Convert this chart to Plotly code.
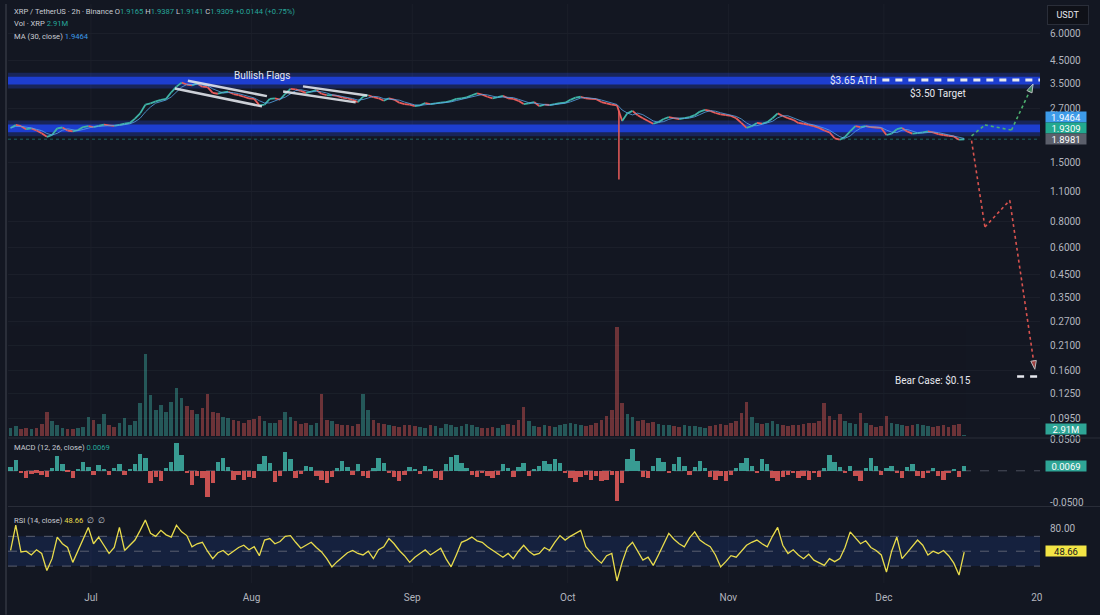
import numpy as np
import pandas as pd
import plotly.graph_objects as go

BG = "#131722"
GRID = "#1b1f2a"
TXT = "#b2b5be"
TEAL = "#3fb3a6"
RED = "#e85c5a"

# ---------------- data (daily samples) ----------------
first_day = "2025-06-15 12:00"
closes = [
    2.18, 2.25, 2.22, 2.15, 2.17, 2.12, 2.06, 1.98, 2.02, 2.17, 2.19, 2.12, 2.10, 2.13, 2.20, 2.22,
    2.20, 2.23, 2.26, 2.24, 2.23, 2.25, 2.28, 2.30, 2.41, 2.55,
    2.80, 2.84, 2.90, 2.95, 2.98, 3.20, 3.40, 3.55, 3.48, 3.45,
    3.52, 3.40, 3.38, 3.18, 3.15, 3.20, 3.22, 3.14, 3.10, 3.05, 3.00,
    2.98, 2.78, 2.80, 2.98, 3.00, 2.96, 3.15, 3.32, 3.30, 3.25,
    3.18, 3.22, 3.28, 3.15, 3.10, 3.10, 3.08, 3.02, 3.00, 2.95,
    2.88, 3.05, 3.10, 3.04, 3.00, 2.92, 3.00, 2.96, 2.86, 2.82, 2.80,
    2.76, 2.78, 2.85, 2.82, 2.84, 2.86, 2.88, 2.92, 2.98, 3.00,
    3.03, 3.10, 3.16, 3.12, 3.05, 3.00, 3.04, 3.08, 3.00, 2.98,
    2.92, 2.82, 2.84, 2.88, 2.76, 2.80, 2.79, 2.82, 2.85, 2.86,
    2.95, 3.02, 3.05, 3.00, 2.98, 2.97, 2.88, 2.84, 2.80, 2.78,
    2.35, 2.55, 2.62, 2.50, 2.42, 2.35, 2.28, 2.32, 2.40, 2.45,
    2.42, 2.40, 2.42, 2.45, 2.50, 2.60, 2.65, 2.62, 2.56, 2.52, 2.50,
    2.48, 2.42, 2.30, 2.18, 2.22, 2.30, 2.28, 2.32, 2.42, 2.55,
    2.48, 2.42, 2.38, 2.30, 2.28, 2.25, 2.22, 2.18, 2.12, 2.08,
    1.95, 1.92, 1.98, 2.10, 2.22, 2.20, 2.22, 2.20, 2.19, 2.18,
    2.02, 2.05, 2.15, 2.18, 2.10, 2.05, 2.06, 2.08, 2.10, 2.08,
    2.04, 2.02, 2.00, 1.99, 1.92, 1.93,
]
volumes_m = [
    30, 38, 28, 32, 26, 30, 45, 90, 55, 40, 32, 28, 25, 30, 35, 72,
    60, 45, 82, 40, 35, 48, 68, 40, 55, 120,
    300, 150, 95, 115, 90, 125, 175, 140, 110, 95,
    80, 105, 155, 90, 85, 70, 65, 60, 55, 50, 58,
    62, 75, 55, 50, 48, 60, 90, 70, 55, 45,
    50, 42, 48, 155, 60, 55, 45, 40, 42, 38,
    45, 155, 95, 60, 50, 45, 40, 38, 35, 42, 40,
    38, 35, 32, 40, 36, 30, 45, 42, 35, 38,
    45, 40, 35, 32, 30, 35, 32, 40, 45, 42,
    60, 108, 55, 38, 35, 40, 38, 35, 42, 45,
    50, 45, 40, 38, 42, 48, 60, 75, 95, 400,
    120, 80, 70, 55, 60, 48, 52, 45, 40, 42,
    38, 35, 40, 36, 38, 35, 32, 38, 42, 45, 40,
    48, 55, 85, 125, 70, 50, 45, 48, 55, 45,
    40, 38, 42, 40, 45, 50, 48, 55, 120, 75,
    60, 80, 55, 50, 45, 85, 48, 40, 35, 38,
    75, 50, 45, 40, 38, 42, 45, 40, 36, 35,
    38, 40, 35, 42, 45, 2.91,
]
macd_hist = [
    0.006, 0.017, -0.004, -0.011, -0.005, -0.003, -0.006, -0.009, 0.004, 0.024,
    0.010, -0.002, -0.011, 0.003, 0.014, 0.006, -0.007, 0.009, 0.002, -0.007,
    0.004, 0.011, -0.006, 0.002, 0.011, 0.027, 0.020, -0.019, -0.010, -0.016,
    0.005, 0.014, 0.043, 0.025, -0.004, -0.022, -0.008, -0.011, -0.041, -0.020,
    0.014, 0.020, 0.006, -0.015, -0.006, -0.014, -0.010, -0.012, 0.010, 0.024,
    0.012, -0.017, -0.008, 0.030, 0.018, -0.012, -0.005, 0.008, 0.006, -0.008,
    -0.014, -0.020, -0.010, 0.004, 0.015, 0.006, -0.006, 0.010, -0.008, -0.012,
    0.005, 0.020, 0.012, -0.004, -0.010, -0.016, -0.006, 0.006, 0.003, -0.005,
    0.008, 0.003, -0.012, -0.014, 0.010, 0.022, 0.025, 0.012, 0.004, -0.006,
    -0.010, -0.004, -0.008, -0.012, -0.006, 0.010, 0.004, -0.010, 0.006, 0.012,
    -0.008, 0.002, 0.008, 0.016, 0.010, 0.018, 0.012, -0.004, -0.012, -0.018,
    -0.010, -0.006, -0.014, -0.008, -0.016, -0.014, -0.006, -0.048, -0.020, 0.018,
    0.035, 0.015, -0.010, -0.012, 0.008, 0.020, 0.014, -0.004, 0.010, 0.022,
    0.008, -0.006, 0.006, 0.015, 0.004, -0.010, -0.014, -0.008, -0.016, -0.006,
    0.004, 0.012, 0.020, 0.008, -0.004, 0.018, 0.010, -0.012, -0.016, -0.010,
    -0.006, -0.004, -0.012, -0.008, -0.014, -0.004, -0.010, 0.004, 0.025, 0.014,
    0.006, -0.004, 0.008, -0.008, -0.016, 0.004, 0.020, 0.008, -0.006, 0.004,
    0.008, -0.004, -0.012, 0.006, 0.010, -0.008, -0.012, -0.004, 0.004, -0.008,
    -0.014, -0.004, 0.002, -0.010, 0.0069,
]
rsi_vals = [
    51, 85, 49, 50, 45, 52, 47, 24, 40, 69,
    60, 55, 35, 50, 65, 82, 60, 69, 58, 47,
    55, 82, 51, 58, 65, 78, 92, 74, 70, 78,
    72, 69, 85, 76, 71, 56, 60, 62, 50, 40,
    48, 51, 45, 50, 55, 58, 52, 56, 44, 65,
    67, 60, 63, 70, 71, 62, 54, 58, 62, 55,
    49, 40, 29, 36, 42, 48, 51, 47, 45, 50,
    40, 52, 56, 67, 60, 51, 44, 35, 42, 47,
    52, 45, 50, 54, 40, 29, 45, 62, 65, 69,
    64, 62, 56, 51, 46, 42, 47, 40, 50, 58,
    50, 45, 47, 55, 51, 62, 71, 65, 70, 74,
    78, 56, 48, 40, 34, 44, 47, 10, 35, 55,
    62, 50, 38, 42, 31, 45, 60, 74, 66, 60,
    56, 68, 76, 65, 60, 56, 45, 29, 36, 44,
    42, 50, 58, 62, 65, 60, 56, 70, 82, 58,
    47, 52, 45, 40, 46, 38, 35, 31, 40, 36,
    40, 55, 76, 68, 60, 64, 55, 51, 45, 22,
    50, 69, 40, 48, 56, 65, 58, 45, 50, 47,
    51, 44, 34, 18, 48.66,
]

crash_wick_time = ["2025-10-10 21:00", "2025-10-10 21:00"]
crash_wick_price = [2.62, 1.25]

bull_times = ["2025-12-17 22:00", "2025-12-20 12:00", "2025-12-25 15:00", "2025-12-29 19:00"]
bull_prices = [2.00, 2.25, 2.13, 3.50]
bear_times = ["2025-12-17 22:00", "2025-12-20 12:00", "2025-12-25 07:00", "2025-12-30 03:00"]
bear_prices = [1.90, 0.75, 1.00, 0.162]

flag1_upper_t = ["2025-07-19 17:00", "2025-08-03 23:00"]
flag1_upper_p = [3.62, 3.07]
flag1_lower_t = ["2025-07-17 05:00", "2025-08-03 00:00"]
flag1_lower_p = [3.33, 2.75]
flag2_upper_t = ["2025-08-10 22:00", "2025-08-23 07:00"]
flag2_upper_p = [3.41, 3.09]
flag2_lower_t = ["2025-08-07 02:00", "2025-08-21 02:00"]
flag2_lower_p = [3.23, 2.87]

ath_price = 3.65
ath_line_start = "2025-11-30 17:00"
target_price_label = 3.19
target_label_time = "2025-12-05 14:00"
bear_price = 0.15
bear_line_start = "2025-12-26 17:00"
bear_label_time = "2025-12-02 18:00"
bear_label_price = 0.145
flags_label_time = "2025-08-03 00:00"
flags_label_price = 3.83

zone_top = [3.48, 3.78]
zone_mid = [2.08, 2.26]

x_start = "2025-06-15 00:00"
x_end = "2025-12-31 03:00"

price_ticks = [6.0, 4.5, 3.5, 2.7, 1.5, 1.1, 0.8, 0.6, 0.45, 0.35, 0.27, 0.21, 0.16, 0.125, 0.095]
month_ticks = ["2025-07-01", "2025-08-01", "2025-09-01", "2025-10-01", "2025-11-01", "2025-12-01", "2025-12-30 12:00"]
month_labels = ["Jul", "Aug", "Sep", "Oct", "Nov", "Dec", "20"]

last_close = 1.9309
ma_last = "1.9464"
alt_level = "1.8981"
vol_last = "2.91M"
macd_last = "0.0069"
rsi_last = "48.66"

# ---------------- layout geometry (pixels) ----------------
W, H = 1100, 615
ML, MR, MT, MB = 8, 60, 0, 32
PW, PH = W - ML - MR, H - MT - MB


def py(p):
    return (PH - p) / PH


def px(p):
    return (p - ML) / PW


dates = pd.date_range(first_day, periods=len(closes), freq="D")
n = len(closes)

fig = go.Figure()

# zones (blue bands)
for lo, hi in [zone_top, zone_mid]:
    for k, col in [(1.045, "rgba(40,80,255,0.25)"), (1.0, "#1d3ed0")]:
        fig.add_trace(go.Scatter(
            x=[x_start, x_end, x_end, x_start, x_start],
            y=[lo / k, lo / k, hi * k, hi * k, lo / k],
            fill="toself", fillcolor=col, mode="lines", line=dict(width=0),
            hoverinfo="skip", xaxis="x", yaxis="y"))

# last price line
fig.add_trace(go.Scatter(x=[x_start, x_end], y=[last_close, last_close], mode="lines",
                         line=dict(color="rgba(38,166,154,0.55)", width=1, dash="dot"),
                         xaxis="x", yaxis="y"))

# volume
vcol = [TEAL if i == 0 or closes[i] >= closes[i - 1] else RED for i in range(n)]
fig.add_trace(go.Bar(x=dates, y=volumes_m, marker=dict(color=vcol, line=dict(width=0)),
                     opacity=0.42, width=0.7 * 86400000, xaxis="x", yaxis="y4"))

# price segments
ux, uy, dx, dy = [], [], [], []
for i in range(1, n):
    if closes[i] >= closes[i - 1]:
        ux += [dates[i - 1], dates[i], None]
        uy += [closes[i - 1], closes[i], None]
    else:
        dx += [dates[i - 1], dates[i], None]
        dy += [closes[i - 1], closes[i], None]
fig.add_trace(go.Scatter(x=dx, y=dy, mode="lines", line=dict(color=RED, width=1.8),
                         xaxis="x", yaxis="y"))
fig.add_trace(go.Scatter(x=ux, y=uy, mode="lines", line=dict(color=TEAL, width=1.8),
                         xaxis="x", yaxis="y"))
ma = pd.Series(closes).rolling(3, min_periods=1).mean()
fig.add_trace(go.Scatter(x=dates, y=ma, mode="lines", line=dict(color="#58a6e8", width=1),
                         opacity=0.8, xaxis="x", yaxis="y"))
fig.add_trace(go.Scatter(x=crash_wick_time, y=crash_wick_price, mode="lines",
                         line=dict(color=RED, width=1.5), xaxis="x", yaxis="y"))

# flags
for tt, pp in [(flag1_upper_t, flag1_upper_p), (flag1_lower_t, flag1_lower_p),
               (flag2_upper_t, flag2_upper_p), (flag2_lower_t, flag2_lower_p)]:
    fig.add_trace(go.Scatter(x=tt, y=pp, mode="lines", line=dict(color="rgba(225,228,235,0.9)", width=2.5),
                             xaxis="x", yaxis="y"))

# projections
for tt, pp, col in [(bull_times, bull_prices, "#4caf6e"), (bear_times, bear_prices, "#d9534f")]:
    fig.add_trace(go.Scatter(x=tt, y=pp, mode="lines+markers",
                             line=dict(color=col, width=1.6, dash="dot"),
                             marker=dict(symbol="arrow", size=[0] * (len(tt) - 1) + [9],
                                         angleref="previous", color=col),
                             xaxis="x", yaxis="y"))

# dashed white levels
fig.add_trace(go.Scatter(x=[ath_line_start, x_end], y=[ath_price, ath_price], mode="lines",
                         line=dict(color="#e6e8ee", width=3, dash="7px,6px"), xaxis="x", yaxis="y"))
fig.add_trace(go.Scatter(x=[bear_line_start, x_end], y=[bear_price, bear_price], mode="lines",
                         line=dict(color="#e6e8ee", width=2.5, dash="7px,6px"), xaxis="x", yaxis="y"))

# MACD
mcol = [TEAL if v >= 0 else RED for v in macd_hist]
fig.add_trace(go.Bar(x=dates, y=macd_hist, marker=dict(color=mcol, line=dict(width=0)),
                     opacity=0.85, width=0.85 * 86400000, xaxis="x2", yaxis="y2"))

# RSI
fig.add_trace(go.Scatter(x=dates, y=rsi_vals, mode="lines", line=dict(color="#e9dc4c", width=1.3),
                         xaxis="x3", yaxis="y3"))

# ---------------- shapes ----------------
shapes = []
for t in month_ticks[:6]:
    shapes.append(dict(type="line", xref="x", yref="paper", x0=t, x1=t, y0=0, y1=1,
                       line=dict(color=GRID, width=1), layer="below"))
for p in [437, 506]:
    shapes.append(dict(type="line", xref="paper", yref="paper", x0=px(ML), x1=px(W), y0=py(p), y1=py(p),
                       line=dict(color="#2a2e39", width=1)))
shapes.append(dict(type="line", xref="paper", yref="paper", x0=px(6), x1=px(6), y0=py(H), y1=py(0),
                   line=dict(color="#2a2e39", width=2)))
shapes.append(dict(type="rect", xref="paper", yref="y3", x0=0, x1=1, y0=30, y1=70,
                   fillcolor="rgba(41,98,255,0.13)", line=dict(width=0), layer="below"))
for lv in [70, 50, 30]:
    shapes.append(dict(type="line", xref="paper", yref="y3", x0=0, x1=1, y0=lv, y1=lv,
                       line=dict(color="#5a5f70", width=1, dash="dash"), layer="below"))
shapes.append(dict(type="line", xref="paper", yref="y2", x0=0, x1=1, y0=0, y1=0,
                   line=dict(color="#4a4f5c", width=1, dash="dash"), layer="below"))

# ---------------- annotations ----------------
T = lambda s, c: f"<span style='color:{c}'>{s}</span>"
g = "#26a69a"
LEG = dict(size=7.6, color="#c9ccd4")
ann = []
ann.append(dict(xref="paper", yref="paper", x=px(12), y=py(8), xanchor="left", yanchor="middle",
                text="XRP / TetherUS · 2h · Binance O" + T("1.9165", g) + " H" + T("1.9387", g) +
                     " L" + T("1.9141", g) + " C" + T("1.9309", g) + " " + T("+0.0144 (+0.75%)", g),
                font=LEG, showarrow=False))
ann.append(dict(xref="paper", yref="paper", x=px(12), y=py(20), xanchor="left", yanchor="middle",
                text="Vol · XRP " + T(vol_last, g), font=LEG, showarrow=False))
ann.append(dict(xref="paper", yref="paper", x=px(12), y=py(33), xanchor="left", yanchor="middle",
                text="MA (30, close) " + T(ma_last, "#3d9be9"), font=LEG, showarrow=False))
ann.append(dict(xref="paper", yref="paper", x=px(12), y=py(447), xanchor="left", yanchor="middle",
                text="MACD (12, 26, close) " + T(macd_last, g), font=LEG, showarrow=False))
ann.append(dict(xref="paper", yref="paper", x=px(12), y=py(520), xanchor="left", yanchor="middle",
                text="RSI (14, close) " + T(rsi_last, "#e9dc4c") + "  ∅  ∅", font=LEG, showarrow=False))

ann.append(dict(xref="x", yref="y", x=flags_label_time, y=np.log10(flags_label_price), text="Bullish Flags",
                font=dict(size=10, color="#e6e8ee"), showarrow=False, xanchor="center", yanchor="middle"))
ann.append(dict(xref="x", yref="y", x=ath_line_start, y=np.log10(ath_price), text="$3.65 ATH",
                font=dict(size=10, color="#e6e8ee"), showarrow=False, xanchor="right", yanchor="middle", xshift=-3))
ann.append(dict(xref="x", yref="y", x=target_label_time, y=np.log10(target_price_label), text="$3.50 Target",
                font=dict(size=10, color="#e6e8ee"), showarrow=False, xanchor="left", yanchor="middle"))
ann.append(dict(xref="x", yref="y", x=bear_label_time, y=np.log10(bear_label_price), text="Bear Case: $0.15",
                font=dict(size=10, color="#e6e8ee"), showarrow=False, xanchor="left", yanchor="middle"))

for txt, ypix, bg, fc in [(ma_last, 114, "#3d9be9", "#ffffff"), (f"{last_close:.4f}", 125, "#22a98f", "#ffffff"),
                          (alt_level, 136, "#5b5f6b", "#ffffff"), (vol_last, 428, "#2ea596", "#ffffff"),
                          (macd_last, 465, "#2ea596", "#ffffff"), (rsi_last, 551, "#f3e545", "#131722")]:
    ann.append(dict(xref="paper", yref="paper", x=px(1066), y=py(ypix), text=txt, showarrow=False,
                    xanchor="center", yanchor="middle", bgcolor=bg, width=40, height=10,
                    font=dict(size=9.5, color=fc), borderpad=0))
ann.append(dict(xref="paper", yref="paper", x=px(1068), y=py(11), text="USDT", showarrow=False,
                xanchor="center", yanchor="middle", bgcolor="#0f1118", bordercolor="#2a2e39", borderwidth=1,
                width=38, height=16, font=dict(size=9, color="#e6e8ee")))

axis_common = dict(showline=False, zeroline=False, ticks="")
fig.update_layout(
    width=W, height=H, margin=dict(l=ML, r=MR, t=MT, b=MB),
    paper_bgcolor=BG, plot_bgcolor="rgba(0,0,0,0)", showlegend=False, hovermode=False,
    font=dict(family="Roboto, sans-serif", color=TXT, size=10),
    bargap=0,
    xaxis=dict(domain=[0, 1], anchor="y", range=[x_start, x_end], showticklabels=False, showgrid=False, **axis_common),
    xaxis2=dict(domain=[0, 1], anchor="y2", range=[x_start, x_end], showticklabels=False, showgrid=False, **axis_common),
    xaxis3=dict(domain=[0, 1], anchor="y3", range=[x_start, x_end], showgrid=False, tickvals=month_ticks,
                ticktext=month_labels, ticklabelstandoff=7, tickfont=dict(size=10, color=TXT), **axis_common),
    yaxis=dict(domain=[py(437), 1], anchor="x", type="log", side="right",
               range=[np.log10(0.0773), np.log10(8.28)], tickvals=price_ticks,
               ticktext=[f"{v:.4f}" for v in price_ticks], showgrid=True, gridcolor=GRID,
               ticklabelstandoff=9, tickfont=dict(size=10, color=TXT), **axis_common),
    yaxis2=dict(domain=[py(505), py(437)], anchor="x2", side="right", range=[-0.0547, 0.0516],
                tickvals=[0.05, -0.05], ticktext=["0.0500", "-0.0500"], showgrid=False,
                ticklabelstandoff=9, tickfont=dict(size=10, color=TXT), **axis_common),
    yaxis3=dict(domain=[0, py(507)], anchor="x3", side="right", range=[7.3, 108.7],
                tickvals=[80], ticktext=["80.00"], showgrid=False,
                ticklabelstandoff=9, tickfont=dict(size=10, color=TXT), **axis_common),
    yaxis4=dict(domain=[py(435), py(325)], anchor="x", range=[0, 400], visible=False),
    shapes=shapes, annotations=ann,
)

fig.write_html("out.html")
